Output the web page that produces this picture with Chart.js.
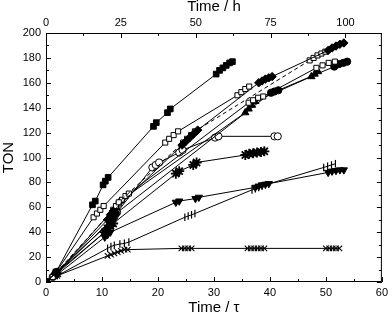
<!DOCTYPE html>
<html>
<head>
<meta charset="utf-8">
<script src="https://cdn.jsdelivr.net/npm/chart.js@4"></script>
<style>
  body { margin: 0; background: #fff; }
  canvas { display: block; }
</style>
</head>
<body>
<canvas id="myChart" width="392" height="317"></canvas>
<script>
// each series: [time / tau, TON]
const filledSquares = [[0,0],[1.8,8],[8.3,62],[8.8,65],[10.2,78],[10.6,81],[11.1,84],[19.2,125],[19.7,128],[21.7,136],[22.2,139],[30.4,167],[31,170],[31.6,172],[32.2,174],[32.8,176],[33.3,177]];
const filledDiamonds = [[0,0],[1.8,7],[11,50],[11.5,54],[12,57],[24.3,110],[25,113],[25.7,116],[26.4,119],[27.1,122],[38,160],[38.6,161.5],[39.2,163],[39.8,164],[40.4,165],[50.4,186],[51.1,188],[51.8,189.5],[52.5,191],[53.2,192]];
const openSquaresTop = [[0,0],[1.2,4],[8.5,52],[9.1,55],[9.7,58],[10.3,61],[21.3,112],[22,115],[22.8,118],[23.6,121],[34.2,150],[34.9,152.5],[35.6,155],[36.3,157]];
const openSquaresDashed = [[0,0],[1.5,6],[12,58],[12.5,61],[13,64],[24.5,112],[25.2,115],[25.9,118],[26.6,121],[47.1,178],[47.8,180],[48.5,182],[49.2,183.5],[49.9,185]];
const openSquaresMid = [[0,0],[1.5,5],[13,63],[13.6,66],[14.2,69],[14.8,71],[36.2,144],[37,146],[37.9,148],[38.8,149],[48.3,172],[49.4,174],[50.5,176],[51.6,177]];
const filledCircles = [[0,0],[1.8,8],[11.5,48],[12,52],[12.5,55],[40.2,152],[40.8,153],[41.5,154],[51.5,173],[52.3,175],[53.1,176],[53.8,177]];
const filledTriangles = [[0,0],[2,8],[10.5,40],[11,45],[11.5,50],[12,55],[12.6,60],[13.2,65],[35.6,136],[36.2,139],[36.8,142],[37.4,145],[47.4,165],[48,167],[48.6,169]];
const openCircles = [[0,0],[1.2,4],[12.2,52],[12.7,56],[19,92],[19.6,94],[20.2,96],[23.8,104],[24.4,106],[30.2,116],[30.8,117],[40.8,117],[41.4,117]];
const stars = [[0,0],[2,7],[10.5,40],[11,43],[11.5,45],[12,47],[23.2,87],[23.8,89],[26.3,94],[26.9,96],[35.6,102],[36.3,103],[37,103.5],[37.7,104],[38.4,104.5],[39,105]];
const downTriangles = [[0,0],[2,6],[10.5,36],[11,38],[11.5,40],[23.2,64],[23.8,65],[26.7,67],[27.3,68],[37.4,76],[38,77],[38.6,78],[39.2,78.5],[39.8,79],[50.4,88],[51.1,89],[51.8,89.5],[52.5,90],[53.2,90]];
const bars = [[0,0],[2,5],[11,27],[11.6,28.5],[12.2,29.5],[13.2,30.5],[14,31],[14.8,32],[24.8,52],[25.4,53],[26,54],[26.6,55],[36.8,74],[37.4,75],[38,76],[38.6,77],[39.2,78],[49.6,92],[50.3,93],[51,94],[51.7,95]];
const crosses = [[0,0],[2,5],[11,21],[11.6,22],[12.2,23],[12.8,24],[13.4,25],[14,26],[14.6,26],[24.2,27],[24.8,27],[25.4,27],[26,27],[36,27],[36.6,27],[37.2,27],[37.8,27],[38.4,27],[39,27],[50,27],[50.6,27],[51.2,27],[51.8,27],[52.4,27]];

const tauTicks = [0, 10, 20, 30, 40, 50, 60];
const hourTicks = [0, 25, 50, 75, 100];
const tonTicks = [0, 20, 40, 60, 80, 100, 120, 140, 160, 180, 200];
const hoursPerTau = 100 / 53.5;

const toXY = (arr) => arr.map((p) => ({ x: p[0], y: p[1] }));

function series(data, style, filled, extra) {
  return Object.assign({
    data: toXY(data),
    showLine: true,
    borderColor: "#000",
    borderWidth: 1,
    tension: 0,
    pointStyle: style,
    pointRadius: 3.6,
    pointBorderWidth: 1,
    pointBorderColor: "#000",
    pointBackgroundColor: filled ? "#000" : "#fff",
  }, extra || {});
}

// inward tick marks + frame, like the origin plot
const frameTicks = {
  id: "frameTicks",
  afterDraw(chart) {
    const { ctx, chartArea: a, scales } = chart;
    ctx.save();
    ctx.strokeStyle = "#000";
    ctx.lineWidth = 1;
    ctx.strokeRect(a.left + 0.5, a.top + 0.5, a.right - a.left - 1, a.bottom - a.top - 1);
    ctx.beginPath();
    for (let v = 0; v <= 60; v += 5) {
      const x = Math.round(scales.x.getPixelForValue(v)) + 0.5;
      const len = v % 10 === 0 ? 5 : 3;
      ctx.moveTo(x, a.bottom); ctx.lineTo(x, a.bottom - len);
    }
    for (let v = 0; v <= 112; v += 12.5) {
      const x = Math.round(scales.x2.getPixelForValue(v)) + 0.5;
      const len = v % 25 === 0 ? 5 : 3;
      ctx.moveTo(x, a.top); ctx.lineTo(x, a.top + len);
    }
    for (let v = 0; v <= 200; v += 10) {
      const y = Math.round(scales.y.getPixelForValue(v)) + 0.5;
      const len = v % 20 === 0 ? 5 : 3;
      ctx.moveTo(a.left, y); ctx.lineTo(a.left + len, y);
      ctx.moveTo(a.right, y); ctx.lineTo(a.right - len, y);
    }
    ctx.stroke();
    ctx.restore();
  },
};

Chart.defaults.color = "#000";
Chart.defaults.font.family = "'Liberation Sans', Arial, sans-serif";

const myChartRef = document.getElementById("myChart").getContext("2d");
new Chart(myChartRef, {
  type: "scatter",
  data: {
    datasets: [
      series(filledSquares, "rect", true, { pointRadius: 4 }),
      series(filledDiamonds, "rectRot", true, { pointRadius: 4.2 }),
      series(openSquaresTop, "rect", false),
      series(openSquaresDashed, "rect", false, { borderDash: [4, 3] }),
      series(openSquaresMid, "rect", false),
      series(filledCircles, "circle", true),
      series(filledTriangles, "triangle", true, { pointRadius: 4.2 }),
      series(openCircles, "circle", false),
      series(stars, "star", true, { pointRadius: 5, pointBorderWidth: 1.8 }),
      series(downTriangles, "triangle", true, { pointRadius: 4.2, pointRotation: 180 }),
      series(bars, "line", false, { pointRadius: 3.8, pointRotation: 90, pointBorderWidth: 1.2 }),
      series(crosses, "crossRot", false, { pointRadius: 4, pointBorderWidth: 1.1 }),
    ],
  },
  options: {
    responsive: false,
    animation: false,
    layout: { padding: { left: 0, right: 7, top: 0, bottom: 0 } },
    plugins: { legend: { display: false }, tooltip: { enabled: false } },
    scales: {
      x: {
        type: "linear",
        position: "bottom",
        min: 0,
        max: 60,
        afterBuildTicks: (s) => { s.ticks = tauTicks.map((v) => ({ value: v })); },
        afterFit: (s) => { s.height = 35; },
        grid: { display: false, drawTicks: false },
        border: { display: false },
        ticks: { padding: 4, font: { size: 11 }, maxRotation: 0, autoSkip: false },
        title: { display: true, text: "Time / \u03C4", font: { size: 15 }, padding: { top: 0, bottom: 0 } },
      },
      x2: {
        type: "linear",
        position: "top",
        min: 0,
        max: 60 * hoursPerTau,
        afterBuildTicks: (s) => { s.ticks = hourTicks.map((v) => ({ value: v })); },
        afterFit: (s) => { s.height = 33; },
        grid: { display: false, drawTicks: false },
        border: { display: false },
        ticks: { padding: 3, font: { size: 11 }, maxRotation: 0, autoSkip: false },
        title: { display: true, text: "Time / h", font: { size: 15 }, padding: { top: -2, bottom: 0 } },
      },
      y: {
        type: "linear",
        position: "left",
        min: 0,
        max: 200,
        afterBuildTicks: (s) => { s.ticks = tonTicks.map((v) => ({ value: v })); },
        afterFit: (s) => { s.width = 46; },
        grid: { display: false, drawTicks: false },
        border: { display: false },
        ticks: { padding: 5, font: { size: 11 }, autoSkip: false },
        title: { display: true, text: "TON", font: { size: 15 }, padding: { top: 0, bottom: 0 } },
      },
    },
  },
  plugins: [frameTicks],
});
</script>
</body>
</html>
